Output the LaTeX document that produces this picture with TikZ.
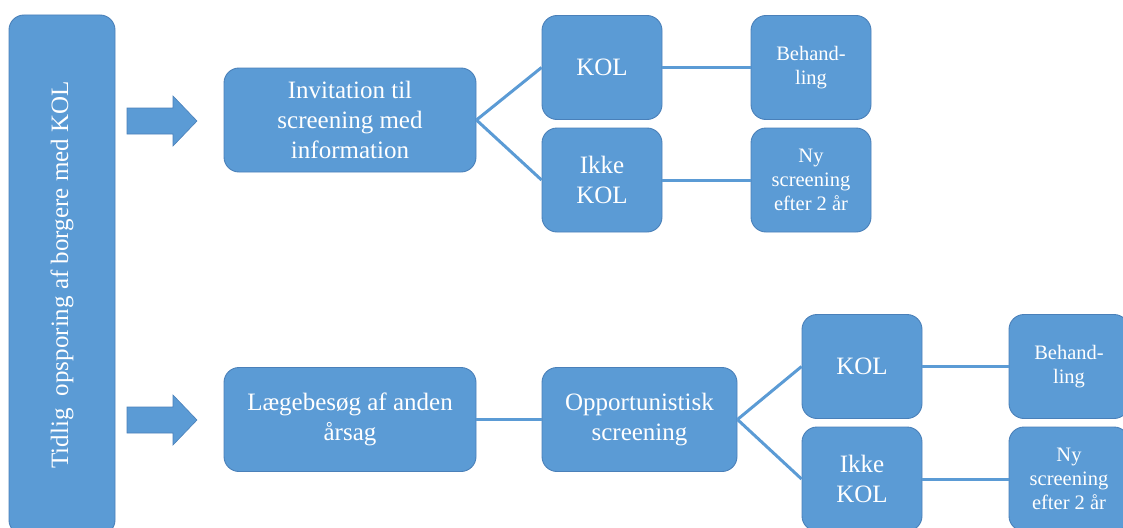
\documentclass[tikz,border=0pt]{standalone}
\usepackage{fontspec}
\setmainfont{Liberation Serif}
\usepackage{xcolor}
\definecolor{boxblue}{HTML}{5B9BD5}
\definecolor{boxline}{HTML}{4A80B9}
\tikzset{
  every node/.style={font=\rmfamily},
  box/.style={
    draw=boxline,
    fill=boxblue,
    rounded corners=15pt,
    line width=0.9pt,
    text=white,
    align=center,
    inner sep=2pt,
    font=\fontsize{25}{30}\selectfont
  }
}

\begin{document}
\begin{tikzpicture}[x=1pt,y=-1pt]
  \tikzset{
    widebox/.style={
      box,
      minimum width=252pt,
      minimum height=104pt
    },
    smallbox/.style={
      box,
      minimum width=120pt,
      minimum height=104pt
    },
    smalltext/.style={
      font=\fontsize{20.5}{24}\selectfont
    },
    link/.style={
      draw=boxblue,
      line width=3pt
    },
    blockarrow/.style={
      fill=boxblue,
      draw=boxline,
      line width=0.6pt,
      line join=miter
    }
  }
  \useasboundingbox (0,0) rectangle (1123,527);
  \clip (0,0) rectangle (1123,527);

  % Nodes
  \node[box, rotate=90, minimum width=520pt, minimum height=106pt] (start) at (62,275) {Tidlig\ \ opsporing af borgere med KOL};

  \node[widebox] (invite) at (350,120) {Invitation til\\screening med\\information};
  \node[smallbox] (kolA) at (602,67.5) {KOL};
  \node[smallbox] (notA) at (602,180) {Ikke\\KOL};
  \node[smallbox, smalltext] (treatA) at (811,67.5) {Behand-\\ling};
  \node[smallbox, smalltext] (againA) at (811,180) {Ny\\screening\\efter 2 år};

  \node[widebox] (visit) at (350,419.5) {Lægebesøg af anden\\årsag};
  \node[box, minimum width=195pt, minimum height=104pt] (opp) at (639.5,419.5) {Opportunistisk\\screening};
  \node[smallbox] (kolB) at (862,366.5) {KOL};
  \node[smallbox] (notB) at (862,479) {Ikke\\KOL};
  \node[smallbox, smalltext] (treatB) at (1069,366.5) {Behand-\\ling};
  \node[smallbox, smalltext] (againB) at (1069,479) {Ny\\screening\\efter 2 år};

  % Block arrows
  \draw[blockarrow, shift={(127,121)}] (0,-13) -- (46,-13) -- (46,-25) -- (70,0) -- (46,25) -- (46,13) -- (0,13) -- cycle;
  \draw[blockarrow, shift={(127,420)}] (0,-13) -- (46,-13) -- (46,-25) -- (70,0) -- (46,25) -- (46,13) -- (0,13) -- cycle;

  % Edges
  \draw[link] (invite.east) -- (kolA.west);
  \draw[link] (invite.east) -- (notA.west);
  \draw[link] (kolA.east) -- (treatA.west);
  \draw[link] (notA.east) -- (againA.west);

  \draw[link] (visit.east) -- (opp.west);
  \draw[link] (opp.east) -- (kolB.west);
  \draw[link] (opp.east) -- (notB.west);
  \draw[link] (kolB.east) -- (treatB.west);
  \draw[link] (notB.east) -- (againB.west);
\end{tikzpicture}
\end{document}
